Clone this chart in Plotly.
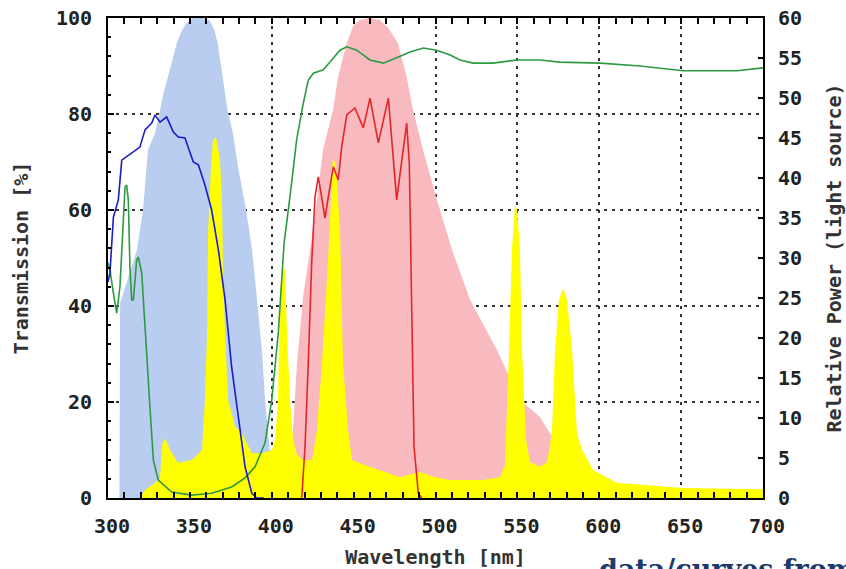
import plotly.graph_objects as go

# ---------------- data ----------------
# Excitation spectrum (light blue fill, left axis, %)
ex_nm = [307.0, 307.4, 317.7, 321.4, 324.4, 328.7, 331.8, 334.0, 336.6, 339.0, 342.0,
         345.0, 348.0, 352.0, 358.0, 362.0, 365.0, 367.0, 370.0, 373.0, 376.3, 379.4,
         384.3, 388.0, 391.0, 394.0, 395.9, 399.0, 400.8]
ex_val = [0, 40.6, 51.7, 60.0, 72.5, 76.0, 80.8, 84.5, 87.7, 91.0, 94.8,
          97.3, 99.0, 100.0, 100.0, 99.5, 97.5, 94.8, 87.7, 80.8, 76.0, 69.0,
          60.0, 51.7, 41.3, 30.8, 20.4, 9.4, 0]

# Emission spectrum (pink fill, left axis, %)
em_nm = [412.0, 412.4, 413.0, 415.4, 419.1, 423.4, 427.6, 431.3, 437.4, 440.5, 445.8,
         450.0, 454.0, 460.0, 466.0, 471.0, 477.0, 482.4, 486.3, 492.4, 500.9, 510.1,
         521.1, 537.6, 551.6, 563.8, 569.9, 579.1, 588.2, 599.2, 603.5]
em_val = [0, 8.5, 14.2, 28.0, 41.9, 51.7, 62.1, 72.5, 80.8, 87.7, 94.8,
          98.5, 99.6, 100.0, 99.6, 98.0, 94.8, 87.7, 80.8, 72.5, 62.1, 51.7,
          41.3, 30.8, 20.4, 16.9, 13.5, 10.0, 6.5, 4.2, 0]

# Light source (mercury lamp, yellow fill, right axis, relative power)
lamp_nm = [319.5, 322.6, 328.7, 331.8, 333.0, 334.8, 337.9, 342.7, 351.3, 357.4, 359.2,
           360.5, 361.1, 362.9, 364.1, 366.0, 368.4, 369.6, 370.2, 371.5, 373.3, 377.6,
           381.8, 383.7, 387.9, 394.0, 400.2, 402.0, 403.8, 405.0, 406.3, 408.1, 409.3,
           411.1, 413.0, 415.4, 419.1, 424.6, 427.6, 430.7, 434.4, 436.2, 437.4, 439.2,
           441.7, 443.5, 446.6, 449.0, 457.0, 469.2, 478.3, 490.5, 499.7, 508.9, 529.0,
           539.4, 542.4, 544.9, 546.7, 548.5, 549.8, 551.6, 552.8, 555.3, 557.7, 563.8,
           568.1, 571.1, 573.0, 575.4, 577.9, 580.3, 583.4, 586.4, 589.5, 596.2, 610.8,
           651.1, 700.0]
lamp_val = [0, 1.0, 1.9, 2.5, 6.6, 7.5, 6.0, 4.4, 4.75, 6.0, 12.25,
            20.6, 33.1, 41.4, 44.75, 45.1, 42.25, 37.25, 28.9, 20.6, 12.25, 8.9,
            8.1, 7.25, 5.6, 5.6, 6.0, 7.25, 12.25, 24.75, 29.1, 28.5, 21.0,
            12.25, 7.25, 5.4, 4.75, 4.75, 8.5, 16.9, 29.75, 37.25, 42.6, 41.6,
            33.5, 16.9, 8.5, 4.75, 4.1, 3.25, 2.6, 3.25, 2.6, 2.25, 2.25,
            2.6, 4.1, 18.5, 31.0, 36.6, 36.0, 31.0, 18.5, 7.25, 4.5, 3.9,
            4.5, 8.1, 18.5, 24.75, 26.25, 24.75, 18.5, 8.1, 6.0, 3.5, 1.9,
            1.25, 1.1]

# Excitation filter (blue line, %)
exf_nm = [300.0, 301.2, 303.3, 306.3, 308.4, 316.5, 319.5, 322.6, 326.7, 328.7, 331.8,
          335.8, 339.9, 342.9, 347.0, 352.1, 355.2, 359.2, 363.3, 367.4, 371.5, 375.5,
          379.6, 383.7, 387.8, 390.8, 395.0]
exf_val = [45.0, 46.9, 58.5, 62.1, 70.4, 72.5, 73.1, 76.7, 78.1, 79.8, 78.3,
           79.4, 76.25, 75.2, 75.0, 70.0, 69.4, 65.2, 60.0, 51.7, 41.25, 27.3,
           16.9, 6.5, 1.0, 0, 0]

# Dichroic mirror (green line, %)
dm_nm = [300.0, 301.2, 303.3, 305.3, 307.3, 309.4, 310.4, 311.4, 312.4, 313.4, 314.5,
         315.5, 317.5, 318.5, 320.6, 321.6, 323.6, 325.6, 327.7, 330.7, 338.9, 351.1,
         363.3, 375.5, 383.7, 389.8, 395.9, 400.0, 404.0, 407.5, 411.1, 415.2, 419.3,
         422.3, 425.4, 431.5, 436.6, 441.7, 445.8, 451.9, 460.0, 468.1, 476.3, 484.4,
         492.6, 500.7, 508.9, 515.0, 522.9, 535.0, 549.8, 563.8, 576.0, 600.5, 624.9,
         637.1, 651.1, 684.1, 700.0]
dm_val = [49.0, 47.5, 42.7, 38.5, 44.0, 58.5, 64.8, 65.2, 62.1, 48.1, 41.25,
          41.25, 49.6, 50.2, 46.9, 41.25, 28.75, 19.0, 7.9, 3.75, 1.25, 0.6,
          1.0, 2.3, 4.2, 6.5, 11.5, 20.4, 34.4, 53.0, 62.7, 74.6, 82.3,
          87.0, 88.5, 89.2, 91.25, 93.3, 94.0, 93.3, 91.25, 90.6, 91.7, 92.9,
          93.75, 93.3, 92.3, 91.25, 90.6, 90.6, 91.25, 91.25, 90.8, 90.6, 90.0,
          89.6, 89.0, 89.0, 89.6]

# Emission filter (red line, %)
emf_nm = [418.3, 420.3, 422.3, 424.4, 426.4, 428.4, 430.5, 432.5, 434.5, 437.6, 440.6,
          442.7, 445.8, 450.8, 455.9, 460.0, 465.1, 471.2, 476.3, 479.4, 482.4, 484.0,
          485.5, 486.9, 489.5, 491.6]
emf_val = [0, 10.6, 28.0, 49.0, 62.7, 66.9, 62.7, 58.3, 62.7, 69.0, 66.25,
           73.1, 79.8, 81.25, 77.1, 83.3, 74.0, 83.3, 62.1, 69.8, 78.1, 69.8,
           35.0, 10.6, 1.0, 0]

x_ticks = [300, 350, 400, 450, 500, 550, 600, 650, 700]
y_left_ticks = [0, 20, 40, 60, 80, 100]
y_right_ticks = list(range(0, 61, 5))

# ---------------- figure ----------------
FONT = "DejaVu Sans Mono"
fig = go.Figure()

fig.add_trace(go.Scatter(x=ex_nm, y=ex_val, mode="lines", fill="tozeroy",
                         line=dict(width=0, color="#b9cdf0"), fillcolor="#b9cdf0",
                         yaxis="y", hoverinfo="skip"))
fig.add_trace(go.Scatter(x=em_nm, y=em_val, mode="lines", fill="tozeroy",
                         line=dict(width=0, color="#f8babe"), fillcolor="#f8babe",
                         yaxis="y", hoverinfo="skip"))
fig.add_trace(go.Scatter(x=lamp_nm, y=lamp_val, mode="lines", fill="tozeroy",
                         line=dict(width=0, color="#ffff00"), fillcolor="#ffff00",
                         yaxis="y2", hoverinfo="skip"))
fig.add_trace(go.Scatter(x=dm_nm, y=dm_val, mode="lines",
                         line=dict(width=1.6, color="#2e9a40"), yaxis="y3"))
fig.add_trace(go.Scatter(x=exf_nm, y=exf_val, mode="lines",
                         line=dict(width=1.6, color="#1c1cc8"), yaxis="y3"))
fig.add_trace(go.Scatter(x=emf_nm, y=emf_val, mode="lines",
                         line=dict(width=1.6, color="#e4262a"), yaxis="y3"))

tickfont = dict(family=FONT, size=20, color="#222222", weight="bold")
titlefont = dict(family=FONT, size=20, color="#333333", weight="bold")

fig.update_layout(
    width=846, height=569,
    margin=dict(l=108, r=83, t=18, b=71, autoexpand=False),
    plot_bgcolor="white", paper_bgcolor="white",
    showlegend=False,
    xaxis=dict(
        range=[300, 700], tickvals=x_ticks, ticktext=[str(v) for v in x_ticks],
        showgrid=True, gridcolor="#333333", griddash="3px,5px", gridwidth=1.5,
        showline=True, linecolor="black", linewidth=2, mirror="allticks",
        ticks="inside", ticklen=6, tickcolor="black", tickwidth=1.5,
        minor=dict(dtick=10, tick0=300, ticks="inside", ticklen=3, tickcolor="black", showgrid=False),
        tickfont=tickfont, ticklabelstandoff=9, ticklabelshift=4,
        title=dict(text="Wavelength [nm]", font=titlefont, standoff=14),
        zeroline=False, automargin=False,
    ),
    yaxis=dict(
        range=[0, 100], tickvals=y_left_ticks, ticktext=[str(v) for v in y_left_ticks],
        showgrid=True, gridcolor="#333333", griddash="3px,5px", gridwidth=1.5,
        showline=True, linecolor="black", linewidth=2, mirror=True,
        ticks="inside", ticklen=6, tickcolor="black", tickwidth=1.5,
        minor=dict(dtick=4, tick0=0, ticks="inside", ticklen=3, tickcolor="black", showgrid=False),
        tickfont=tickfont, ticklabelstandoff=10,
        title=dict(text="Transmission [%]", font=titlefont, standoff=22),
        zeroline=False, automargin=False,
    ),
    yaxis2=dict(
        range=[0, 60], tickvals=y_right_ticks, ticktext=[str(v) for v in y_right_ticks],
        overlaying="y", side="right", showgrid=False,
        showline=False, ticks="inside", ticklen=5, tickcolor="black", tickwidth=1.5,
        tickfont=tickfont, ticklabelstandoff=14,
        title=dict(text="Relative Power (light source)", font=titlefont, standoff=28),
        zeroline=False, automargin=False,
    ),
    yaxis3=dict(range=[0, 100], overlaying="y", visible=False),
    annotations=[dict(
        text="data/curves from", xref="paper", yref="paper",
        x=(597 - 108) / 655, y=(498 - 552) / 480, xanchor="left", yanchor="top",
        showarrow=False, font=dict(family="DejaVu Serif", size=27, color="#1b3a6b", weight="bold"),
    )],
)

fig.write_html("out.html")
